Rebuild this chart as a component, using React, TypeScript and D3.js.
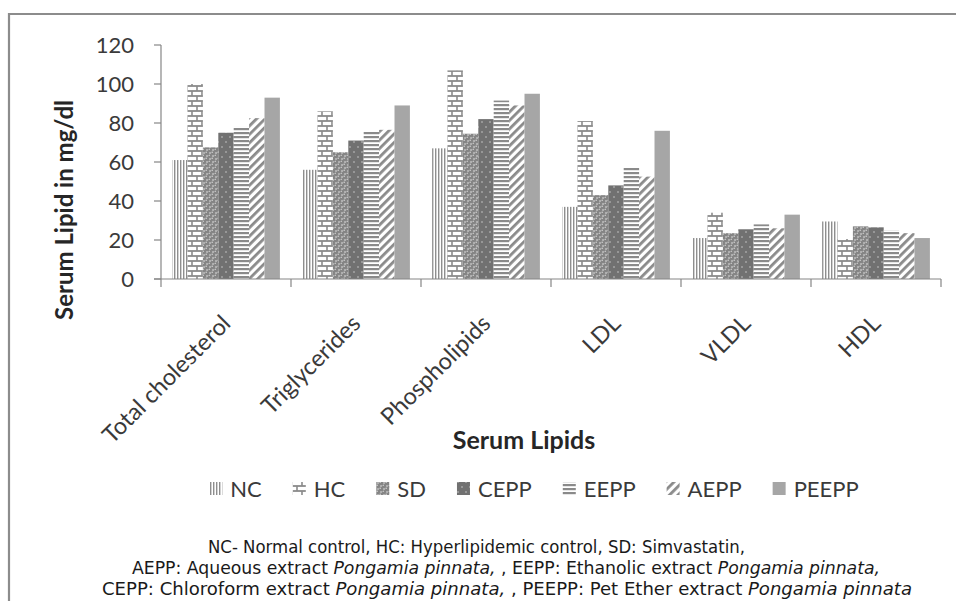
import React from "react";
import * as d3 from "d3";

const categories = ["Total cholesterol", "Triglycerides", "Phospholipids", "LDL", "VLDL", "HDL"];
const seriesNames = ["NC", "HC", "SD", "CEPP", "EEPP", "AEPP", "PEEPP"];
const NC = [61, 56, 67, 37, 21, 29.5];
const HC = [100, 86, 107, 81, 34, 20.5];
const SD = [67.5, 65, 74.5, 43, 23.5, 27];
const CEPP = [75, 71, 82, 48, 25.5, 26.5];
const EEPP = [78, 75.5, 91.5, 57, 28, 25];
const AEPP = [82.5, 76.5, 89, 52.5, 26, 23.5];
const PEEPP = [93, 89, 95, 76, 33, 21];
const seriesValues = [NC, HC, SD, CEPP, EEPP, AEPP, PEEPP];
const yTicks = [0, 20, 40, 60, 80, 100, 120];

const W = 956;
const H = 601;
const FONT = "Lato, 'Open Sans', sans-serif";
const GRAY = "#8a8a8a";

function measure(text: string, font: string) {
  const c = document.createElement("canvas");
  const ctx = c.getContext("2d")!;
  ctx.font = font;
  return ctx.measureText(text).width;
}

export default function App() {
  const x = d3.scaleBand().domain(categories).range([161, 941]).paddingInner(0).paddingOuter(0);
  const xs = d3.scaleBand().domain(seriesNames).range([0, x.bandwidth()]).paddingOuter(0.72).paddingInner(0);
  const y = d3.scaleLinear().domain([0, 120]).range([279, 45]);

  const legendFont = `22px ${FONT}`;
  const sw = 13, gapSw = 8, gapItem = 31;
  const widths = seriesNames.map((s) => measure(s, legendFont));
  const total = widths.reduce((a, w) => a + sw + gapSw + w, 0) + gapItem * (seriesNames.length - 1);
  let lx = 534 - total / 2;
  const legendItems = seriesNames.map((s, i) => {
    const item = { name: s, x: lx, w: widths[i] };
    lx += sw + gapSw + widths[i] + gapItem;
    return item;
  });

  const boundaries = [...categories.map((c) => x(c)!), 941];

  return (
    <svg width={W} height={H} style={{ position: "absolute", left: 0, top: 0, background: "#fff" }}>
      <defs>
        <pattern id="p-NC" width="3" height="4" patternUnits="userSpaceOnUse">
          <rect width="3" height="4" fill="#fff" />
          <rect x="0" width="1.4" height="4" fill="#8e8e8e" />
        </pattern>
        <pattern id="p-HC" width="10" height="10" patternUnits="userSpaceOnUse">
          <rect width="10" height="10" fill="#fff" />
          <line x1="0" y1="1" x2="10" y2="1" stroke={GRAY} strokeWidth="1.8" />
          <line x1="0" y1="6" x2="10" y2="6" stroke={GRAY} strokeWidth="1.8" />
          <line x1="2" y1="1" x2="2" y2="6" stroke={GRAY} strokeWidth="1.6" />
          <line x1="7" y1="6" x2="7" y2="11" stroke={GRAY} strokeWidth="1.6" />
          <line x1="7" y1="-4" x2="7" y2="1" stroke={GRAY} strokeWidth="1.6" />
        </pattern>
        <pattern id="p-SD" width="6" height="6" patternUnits="userSpaceOnUse">
          <rect width="6" height="6" fill="#fff" />
          {[[0, 0], [6, 0], [0, 6], [6, 6], [3, 3]].map(([cx, cy], i) => (
            <g key={i}>
              <circle cx={cx} cy={cy} r="2.5" fill="#858585" />
              <circle cx={cx - 0.8} cy={cy - 0.8} r="0.8" fill="#d0d0d0" />
            </g>
          ))}
        </pattern>
        <pattern id="p-CEPP" width="8" height="10" patternUnits="userSpaceOnUse">
          <rect width="8" height="10" fill="#717171" />
          <circle cx="2" cy="2" r="0.8" fill="#c8c8c8" />
          <circle cx="6" cy="7" r="0.8" fill="#c8c8c8" />
        </pattern>
        <pattern id="p-EEPP" width="4" height="4" patternUnits="userSpaceOnUse">
          <rect width="4" height="4" fill="#fff" />
          <rect y="0" width="4" height="2.2" fill={GRAY} />
        </pattern>
        <pattern id="p-AEPP" width="6" height="6" patternUnits="userSpaceOnUse" patternTransform="rotate(45)">
          <rect width="6" height="6" fill="#fff" />
          <rect x="0" width="2.8" height="6" fill={GRAY} />
        </pattern>
        <pattern id="p-PEEPP" width="4" height="4" patternUnits="userSpaceOnUse">
          <rect width="4" height="4" fill="#a6a6a6" />
        </pattern>
      </defs>

      {/* border */}
      <path d={`M9,${H} V14 H${W}`} fill="none" stroke="#8c8c8c" strokeWidth="2.2" />

      {/* bars */}
      {seriesNames.map((s, si) => (
        <g key={s}>
          {categories.map((c, ci) => {
            const v = seriesValues[si][ci];
            const bx = x(c)! + xs(s)!;
            return (
              <rect key={c} x={bx} y={y(v)} width={xs.bandwidth()} height={y(0) - y(v)} fill={`url(#p-${s})`} />
            );
          })}
        </g>
      ))}

      {/* y axis */}
      <line x1={161} y1={y(120)} x2={161} y2={y(0)} stroke="#868686" strokeWidth="1.2" />
      {yTicks.map((t) => (
        <g key={t}>
          <line x1={154} x2={161} y1={y(t)} y2={y(t)} stroke="#868686" strokeWidth="1.2" />
          <text x={134} y={y(t)} dy="0.36em" textAnchor="end" fontFamily={FONT} fontSize="22" fill="#3a3a3a">
            {t}
          </text>
        </g>
      ))}

      {/* x axis */}
      <line x1={154} y1={y(0)} x2={941} y2={y(0)} stroke="#868686" strokeWidth="1.2" />
      {boundaries.map((b, i) => (
        <line key={i} x1={b} x2={b} y1={y(0)} y2={y(0) + 8} stroke="#868686" strokeWidth="1.2" />
      ))}
      {categories.map((c) => {
        const cx = x(c)! + x.bandwidth() / 2 + 6;
        return (
          <text
            key={c}
            transform={`translate(${cx},${325}) rotate(-45)`}
            textAnchor="end"
            fontFamily={FONT}
            fontSize="23.5"
            fill="#3a3a3a"
          >
            {c}
          </text>
        );
      })}

      {/* axis titles */}
      <text
        transform={`translate(73,${210}) rotate(-90)`}
        textAnchor="middle"
        fontFamily={FONT}
        fontWeight="bold"
        fontSize="24"
        fill="#262626"
      >
        Serum Lipid in mg/dl
      </text>
      <text x={524} y={449} textAnchor="middle" fontFamily={FONT} fontWeight="bold" fontSize="25" fill="#262626">
        Serum Lipids
      </text>

      {/* legend */}
      {legendItems.map((it) => (
        <g key={it.name}>
          <rect x={it.x} y={482} width={sw} height={13} fill={`url(#p-${it.name})`} />
          <text x={it.x + sw + gapSw} y={497} fontFamily={FONT} fontSize="22" fill="#3a3a3a">
            {it.name}
          </text>
        </g>
      ))}

      {/* footnote */}
      <g fontFamily="'DejaVu Sans Condensed', 'DejaVu Sans', sans-serif" fontSize="17" fill="#1a1a1a">
        <text x={208} y={553} textLength={537} lengthAdjust="spacingAndGlyphs">
          NC- Normal control, HC: Hyperlipidemic control, SD: Simvastatin,
        </text>
        <text x={132} y={574} textLength={748} lengthAdjust="spacingAndGlyphs">
          AEPP: Aqueous extract <tspan fontStyle="italic">Pongamia pinnata,</tspan> , EEPP: Ethanolic extract{" "}
          <tspan fontStyle="italic">Pongamia pinnata,</tspan>
        </text>
        <text x={102} y={595} textLength={810} lengthAdjust="spacingAndGlyphs">
          CEPP: Chloroform extract <tspan fontStyle="italic">Pongamia pinnata,</tspan> , PEEPP: Pet Ether extract{" "}
          <tspan fontStyle="italic">Pongamia pinnata</tspan>
        </text>
      </g>
    </svg>
  );
}
